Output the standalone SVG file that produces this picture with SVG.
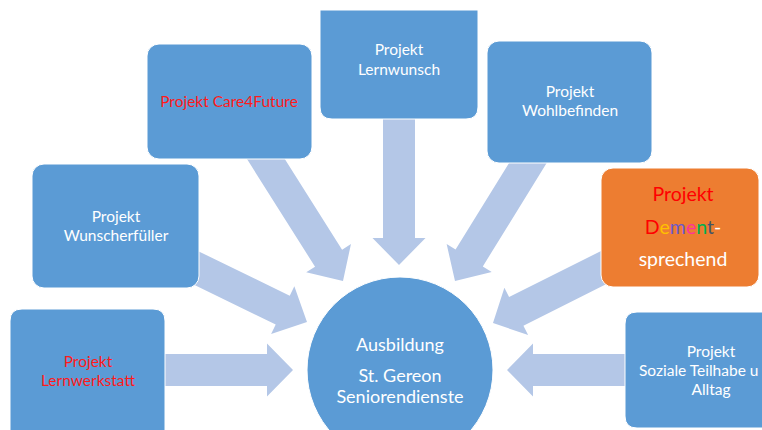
<svg xmlns="http://www.w3.org/2000/svg" width="762" height="430" viewBox="0 0 762 430">
<style>
.box{fill:#5b9bd5;stroke:#ffffff;stroke-width:1}
.org{fill:#ed7d31;stroke:#ffffff;stroke-width:1}
.arr{fill:#b4c7e7}
.t{font-family:Lato,"Open Sans","Liberation Sans",sans-serif;font-size:15.5px;fill:#ffffff;text-anchor:middle}
.s{text-anchor:start}
.r{fill:#ff1a1a}
.big{font-size:19.5px}
.c{font-size:18px}
</style>
<defs>
<clipPath id="cv"><rect x="0" y="0" width="762" height="430"/></clipPath>
</defs>
<g id="connectors">
<polygon class="arr" transform="translate(293,370)" points="-133,-16 -26,-16 -26,-26.5 0,0 -26,26.5 -26,16 -133,16"/>
<polygon class="arr" transform="translate(307,322) rotate(26)" points="-135,-16 -27,-16 -27,-26.5 0,0 -27,26.5 -27,16 -135,16"/>
<polygon class="arr" transform="translate(343,281) rotate(57.7)" points="-165,-16 -27,-16 -27,-26.5 0,0 -27,26.5 -27,16 -165,16"/>
<polygon class="arr" transform="translate(399,265) rotate(90)" points="-155,-16 -27,-16 -27,-26.5 0,0 -27,26.5 -27,16 -155,16"/>
<polygon class="arr" transform="translate(455,281) rotate(121.7)" points="-165,-16 -27,-16 -27,-26.5 0,0 -27,26.5 -27,16 -165,16"/>
<polygon class="arr" transform="translate(493,323) rotate(153.4)" points="-140,-16 -26,-16 -26,-26.5 0,0 -26,26.5 -26,16 -140,16"/>
<polygon class="arr" transform="translate(507,370) rotate(180)" points="-128,-16 -26,-16 -26,-26.5 0,0 -26,26.5 -26,16 -128,16"/>
</g>
<g id="center">
<g clip-path="url(#cv)"><circle class="box" cx="400" cy="370" r="93"/></g>
<text class="t c" x="400" y="351">Ausbildung</text>
<text class="t c" x="400" y="382">St. Gereon</text>
<text class="t c" x="400" y="403">Seniorendienste</text>
</g>
<g id="lernwerkstatt">
<path class="box" d="M10,431 V321 Q10,309 22,309 H153 Q165,309 165,321 V431 Z"/>
<text class="t r" x="88" y="367">Projekt</text>
<text class="t r" x="88" y="386">Lernwerkstatt</text>
</g>
<g id="wunscherfueller">
<rect class="box" x="32" y="164" width="167" height="124" rx="12"/>
<text class="t" x="116" y="222">Projekt</text>
<text class="t" x="116" y="241">Wunscherfüller</text>
</g>
<g id="care4future">
<rect class="box" x="147" y="44" width="165" height="115" rx="12"/>
<text class="t r" x="229" y="107">Projekt Care4Future</text>
</g>
<g id="lernwunsch">
<path class="box" d="M320,10 H478 V107 Q478,119 466,119 H332 Q320,119 320,107 Z"/>
<text class="t" x="399" y="55">Projekt</text>
<text class="t" x="399" y="75">Lernwunsch</text>
</g>
<g id="wohlbefinden">
<rect class="box" x="487" y="41" width="165" height="122" rx="12"/>
<text class="t" x="570" y="97">Projekt</text>
<text class="t" x="570" y="116">Wohlbefinden</text>
</g>
<g id="dement">
<rect class="org" x="601" y="168" width="158" height="119" rx="12"/>
<text class="t big" x="683" y="201"><tspan fill="#ff0000">Projekt</tspan></text>
<text class="t big" x="683" y="234"><tspan fill="#ff0000">D</tspan><tspan fill="#ffc000">e</tspan><tspan fill="#6a5acd">m</tspan><tspan fill="#ff3399">e</tspan><tspan fill="#00b050">n</tspan><tspan fill="#44546a">t</tspan><tspan fill="#ffffff">-</tspan></text>
<text class="t big" x="683" y="266">sprechend</text>
</g>
<g id="soziale">
<path class="box" d="M763,312 H637 Q625,312 625,324 V416 Q625,428 637,428 H763 Z"/>
<text class="t" x="711" y="357">Projekt</text>
<text class="t s" x="639" y="376">Soziale Teilhabe u</text>
<text class="t" x="711" y="395">Alltag</text>
</g>
</svg>
